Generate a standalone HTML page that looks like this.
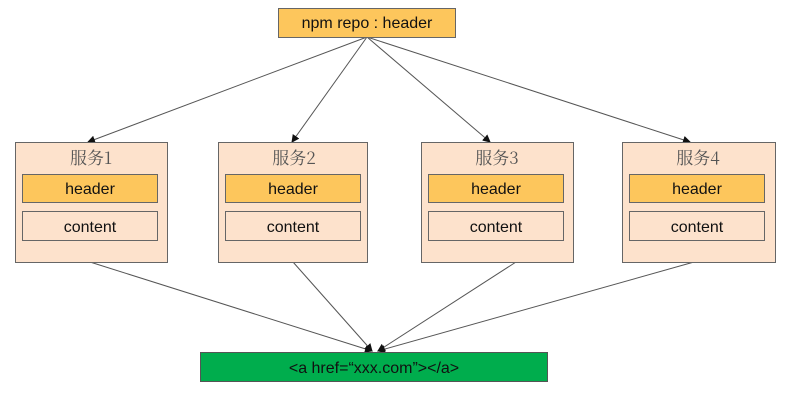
<!DOCTYPE html>
<html><head><meta charset="utf-8"><style>
body{margin:0;background:#fff;width:800px;height:411px;overflow:hidden}
svg text{font-family:"Liberation Sans","Noto Sans CJK SC",sans-serif;font-size:16px;fill:#111}
.cn{font-family:"Noto Serif CJK SC","Liberation Serif",serif !important;fill:#555 !important;font-size:17px !important}
</style></head><body>
<svg width="800" height="411" xmlns="http://www.w3.org/2000/svg">
<defs><marker id="a" markerWidth="8" markerHeight="8" refX="7" refY="4" orient="auto" markerUnits="userSpaceOnUse"><path d="M0,0 L8,4 L0,8 z" fill="#111"/></marker></defs>
<g stroke="#555" stroke-width="1" fill="none" marker-end="url(#a)">
<line x1="367" y1="37" x2="88" y2="142"/>
<line x1="367" y1="37" x2="292" y2="142"/>
<line x1="367" y1="37" x2="490" y2="142"/>
<line x1="367" y1="37" x2="690" y2="142"/>
<line x1="90" y1="262" x2="372" y2="351"/>
<line x1="293" y1="262" x2="372" y2="351"/>
<line x1="516" y1="262" x2="378" y2="351"/>
<line x1="694" y1="262" x2="378" y2="351"/>
</g>
<rect x="278.5" y="8.5" width="177" height="29" fill="#fdc65c" stroke="#666"/>
<text x="367" y="28" text-anchor="middle" font-size="17">npm repo : header</text>
<g>
<rect x="15.5" y="142.5" width="152" height="120" fill="#fde2cc" stroke="#666"/>
<text class="cn" x="91" y="164" text-anchor="middle">服务1</text>
<rect x="22.5" y="174.5" width="135" height="28" fill="#fdc65c" stroke="#666"/>
<text x="90" y="194" text-anchor="middle">header</text>
<rect x="22.5" y="211.5" width="135" height="29" fill="#fde2cc" stroke="#666"/>
<text x="90" y="232" text-anchor="middle">content</text>
</g>
<g transform="translate(203,0)">
<rect x="15.5" y="142.5" width="149" height="120" fill="#fde2cc" stroke="#666"/>
<text class="cn" x="91" y="164" text-anchor="middle">服务2</text>
<rect x="22.5" y="174.5" width="135" height="28" fill="#fdc65c" stroke="#666"/>
<text x="90" y="194" text-anchor="middle">header</text>
<rect x="22.5" y="211.5" width="135" height="29" fill="#fde2cc" stroke="#666"/>
<text x="90" y="232" text-anchor="middle">content</text>
</g>
<g transform="translate(406,0)">
<rect x="15.5" y="142.5" width="152" height="120" fill="#fde2cc" stroke="#666"/>
<text class="cn" x="91" y="164" text-anchor="middle">服务3</text>
<rect x="22.5" y="174.5" width="135" height="28" fill="#fdc65c" stroke="#666"/>
<text x="90" y="194" text-anchor="middle">header</text>
<rect x="22.5" y="211.5" width="135" height="29" fill="#fde2cc" stroke="#666"/>
<text x="90" y="232" text-anchor="middle">content</text>
</g>
<g transform="translate(607,0)">
<rect x="15.5" y="142.5" width="153" height="120" fill="#fde2cc" stroke="#666"/>
<text class="cn" x="91" y="164" text-anchor="middle">服务4</text>
<rect x="22.5" y="174.5" width="135" height="28" fill="#fdc65c" stroke="#666"/>
<text x="90" y="194" text-anchor="middle">header</text>
<rect x="22.5" y="211.5" width="135" height="29" fill="#fde2cc" stroke="#666"/>
<text x="90" y="232" text-anchor="middle">content</text>
</g>
<rect x="200.5" y="352.5" width="347" height="29" fill="#00ad4d" stroke="#555"/>
<text x="374" y="373" text-anchor="middle" font-size="17">&lt;a href=“xxx.com”&gt;&lt;/a&gt;</text>
</svg>
</body></html>
